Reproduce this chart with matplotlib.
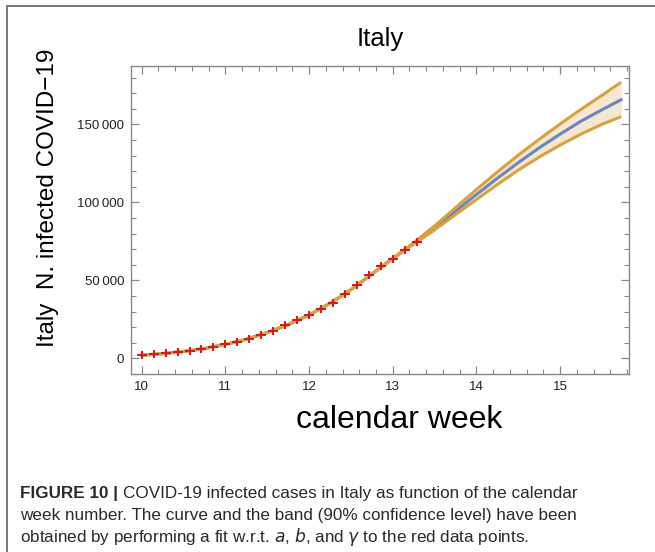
import numpy as np
import matplotlib
matplotlib.use("Agg")
import matplotlib.pyplot as plt
from matplotlib.ticker import MultipleLocator, FuncFormatter
from matplotlib.patches import Rectangle

# daily data points (calendar week, total cases)
weeks = [10 + d / 7 for d in range(24)]
cases = [2036, 2502, 3089, 3858, 4636, 5883, 7375, 9172, 10149, 12462, 15113, 17660,
         21157, 24747, 27980, 31506, 35713, 41035, 47021, 53578, 59138, 63927, 69176, 74386]

# fit curve and 90% band
fit_weeks = [10.0, 10.25, 10.5, 10.75, 11.0, 11.25, 11.5, 11.75, 12.0, 12.25, 12.5, 12.75,
             13.0, 13.25, 13.5, 13.75, 14.0, 14.25, 14.5, 14.75, 15.0, 15.25, 15.5, 15.73]
fit_mid = [2000, 3000, 4400, 6300, 8900, 12200, 16500, 21600, 27800, 35200, 44000, 54000,
           64000, 73600, 83600, 94300, 105000, 115400, 125400, 134900, 143700, 152000, 159300, 165800]
fit_up = [2100, 3100, 4500, 6400, 9000, 12300, 16600, 21700, 27900, 35300, 44100, 54100,
          64200, 74100, 84900, 96500, 108200, 119400, 130200, 140400, 150200, 159600, 168600, 177000]
fit_lo = [1900, 2900, 4300, 6200, 8800, 12100, 16400, 21500, 27700, 35100, 43900, 53900,
          63800, 73100, 82300, 92100, 101800, 111400, 120600, 129000, 136700, 143700, 150000, 154900]

yticks = [0, 50000, 100000, 150000]
xticks = [10, 11, 12, 13, 14, 15]

orange = "#D9A23E"
blue = "#6A86BF"
sans = ["Liberation Sans", "DejaVu Sans"]

fig = plt.figure(figsize=(6.55, 5.52), dpi=100)
fig.patch.set_facecolor("white")

# outer frame of the figure panel
fig.patches.append(Rectangle((7 / 655, -0.1), 1.1, 1 - 6 / 552 + 0.1, transform=fig.transFigure,
                             fill=False, edgecolor="#707070", lw=1.3))

ax = fig.add_axes([131 / 655, 1 - 374 / 552, (629 - 131) / 655, (374 - 66) / 552])

ax.fill_between(fit_weeks, fit_lo, fit_up, color="#F6E7D2", lw=0, zorder=1)
ax.plot(fit_weeks, fit_mid, color=blue, lw=2.2, zorder=2)
ax.plot(fit_weeks, fit_up, color=orange, lw=2.2, zorder=3, solid_capstyle="butt")
ax.plot(fit_weeks, fit_lo, color=orange, lw=2.2, zorder=3, solid_capstyle="butt")

ax.errorbar(weeks, cases, xerr=0.06, fmt="none", ecolor="#6E1A48", elinewidth=1.2, zorder=4)
ax.plot(weeks, cases, "P", color="#E8141B", ms=5.8, mew=0, zorder=5)

ax.set_xlim(9.872, 15.824)
ax.set_ylim(-10060, 187400)

ax.set_xticks(xticks)
ax.set_yticks(yticks)
ax.xaxis.set_minor_locator(MultipleLocator(0.2))
ax.yaxis.set_minor_locator(MultipleLocator(10000))
ax.yaxis.set_major_formatter(FuncFormatter(
    lambda v, p: "{:,}".format(int(v)).replace(",", "\u2009")))

ax.tick_params(which="both", direction="in", top=True, right=True, color="#888888",
               labelsize=9.5, labelcolor="#222222", pad=5)
ax.tick_params(which="major", length=6, width=0.9)
ax.tick_params(which="minor", length=3.5, width=0.8)
for s in ax.spines.values():
    s.set_color("#888888")
    s.set_linewidth(1.0)
for lab in ax.get_xticklabels() + ax.get_yticklabels():
    lab.set_family(sans)

fig.text(380 / 655, 1 - 39 / 552, "Italy", ha="center", va="center", fontsize=18.5, family=sans)
fig.text(48 / 655, 1 - 198 / 552, "Italy  N. infected COVID\u221219", ha="center", va="center",
         rotation=90, fontsize=17.5, family=sans)
fig.text(399 / 655, 1 - 420 / 552, "calendar week", ha="center", va="center", fontsize=23,
         family=sans)

# caption
cap_size = 12.3
cap_col = "#2a2a2a"
bold = fig.text(20 / 655, 1 - 498 / 552, "FIGURE 10 | ", ha="left", va="baseline",
                fontsize=cap_size, fontweight="bold", family=sans, color=cap_col)
fig.canvas.draw()
bb = bold.get_window_extent(renderer=fig.canvas.get_renderer())
fig.text(bb.x1 / 655, 1 - 498 / 552, "COVID-19 infected cases in Italy as function of the calendar",
         ha="left", va="baseline", fontsize=cap_size, family=sans, color=cap_col)
fig.text(20 / 655, 1 - 520 / 552,
         "week number. The curve and the band (90% confidence level) have been",
         ha="left", va="baseline", fontsize=cap_size, family=sans, color=cap_col)
fig.text(20 / 655, 1 - 542 / 552,
         "obtained by performing a fit w.r.t. $a$, $b$, and $\\gamma$ to the red data points.",
         ha="left", va="baseline", fontsize=cap_size, family=sans, color=cap_col)

fig.savefig("out.png", dpi=100)
